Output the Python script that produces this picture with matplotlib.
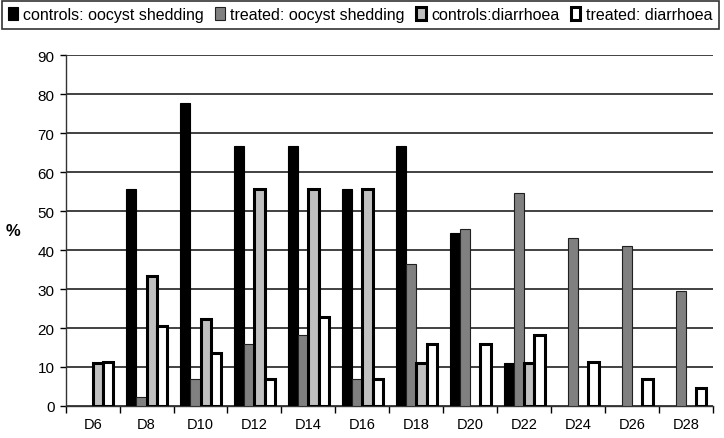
import matplotlib.pyplot as plt
import numpy as np

plt.rcParams['font.family'] = ['Liberation Sans', 'DejaVu Sans']

days = ['D6', 'D8', 'D10', 'D12', 'D14', 'D16', 'D18', 'D20', 'D22', 'D24', 'D26', 'D28']
ctrl_oocyst = [0, 55.6, 77.8, 66.7, 66.7, 55.6, 66.7, 44.4, 11.1, 0, 0, 0]
trt_oocyst = [0, 2.3, 6.8, 15.9, 18.2, 6.8, 36.4, 45.5, 54.5, 43.2, 40.9, 29.5]
ctrl_diarr = [11.1, 33.3, 22.2, 55.6, 55.6, 55.6, 11.1, 0, 11.1, 0, 0, 0]
trt_diarr = [11.4, 20.5, 13.6, 6.8, 22.7, 6.8, 15.9, 15.9, 18.2, 11.4, 6.8, 4.5]

labels = ['controls: oocyst shedding', 'treated: oocyst shedding',
          'controls:diarrhoea', 'treated: diarrhoea']

fig = plt.figure(figsize=(7.24, 4.39), dpi=100)
ax = fig.add_axes([0.0907, 0.0729, 0.894, 0.7995])

x = np.arange(len(days))
w = 0.19
series = [ctrl_oocyst, trt_oocyst, ctrl_diarr, trt_diarr]
faces = ['black', '#808080', '#c0c0c0', 'white']
edges = ['black', '#202020', 'black', 'black']
lws = [0.8, 0.8, 2.2, 2.2]
handles = []
for i, vals in enumerate(series):
    v = np.array(vals, dtype=float)
    m = v > 0
    b = ax.bar(x[m] + (i - 1.5) * w, v[m], w, color=faces[i], edgecolor=edges[i],
               linewidth=lws[i], zorder=3, label=labels[i])
    handles.append(b)

ax.set_xlim(-0.5, len(days) - 0.5)
ax.set_ylim(0, 90)
ax.set_yticks(range(0, 91, 10))
ax.yaxis.grid(True, color='#333333', linewidth=1.3, zorder=0)
ax.set_axisbelow(True)
ax.set_xticks(x)
ax.set_xticklabels(days)
ax.set_xticks(np.arange(-0.5, len(days), 1), minor=True)
ax.tick_params(axis='x', which='major', length=0, pad=8, labelsize=10.5)
ax.tick_params(axis='x', which='minor', length=5, width=1, direction='out')
ax.tick_params(axis='y', length=4, width=1, labelsize=11, pad=4)
for s in ['top', 'right']:
    ax.spines[s].set_visible(False)
ax.spines['left'].set_color('#333333')
ax.spines['bottom'].set_color('#333333')
ax.spines['left'].set_linewidth(1)
ax.spines['bottom'].set_linewidth(1)
ax.set_ylabel('%', rotation=0, fontsize=12, fontweight='bold', labelpad=18, va='center')

leg = fig.legend(handles=handles, loc='upper center', bbox_to_anchor=(0.4975, 0.996),
                 ncol=4, frameon=True, fancybox=False, fontsize=11.5,
                 handlelength=0.6, handleheight=0.85, handletextpad=0.35,
                 columnspacing=0.7, borderpad=0.4, borderaxespad=0)
leg.get_frame().set_edgecolor('black')
leg.get_frame().set_linewidth(1.2)

fig.savefig('out.png', dpi=100)
